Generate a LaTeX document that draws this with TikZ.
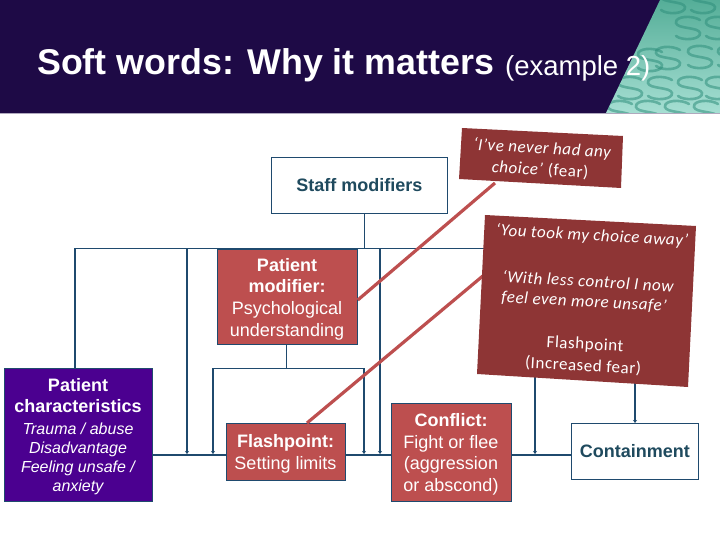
\documentclass[tikz,border=0pt]{standalone}
\usepackage{fontspec}
\setmainfont{Liberation Sans}
\newfontfamily\quotefont[LetterSpace=3.3]{Carlito}
\usetikzlibrary{arrows.meta,calc}
\definecolor{navy}{HTML}{1E0A46}
\definecolor{wire}{HTML}{1F4A6E}
\definecolor{boxred}{HTML}{BD4F4F}
\definecolor{quotered}{HTML}{8E3535}
\definecolor{chars}{HTML}{4B0090}
\definecolor{tealtxt}{HTML}{1F4A5E}
\definecolor{tealtop}{HTML}{55AE98}
\definecolor{tealbot}{HTML}{A6DFD3}
\definecolor{tealess}{HTML}{2F8F7C}
\tikzset{
  x=1pt,y=-1pt,
  box/.style={draw=wire,line width=.8pt,inner sep=0pt,align=center,anchor=north west,font=\fontsize{18}{21.6}\selectfont},
  whitebox/.style={box,fill=white,text=tealtxt},
  redbox/.style={box,fill=boxred,text=white},
  thin wire/.style={draw=wire,line width=.8pt},
  thick wire/.style={draw=wire,line width=1.5pt},
  tip wire/.style={thick wire,-{Stealth[length=3pt,width=4pt]}},
  strike/.style={draw=boxred,line width=3.2pt},
  quotebox/.style={fill=quotered,draw=none},
  quotetext/.style={text=white,rotate=-3.2,inner sep=0pt,font=\quotefont\fontsize{17}{20}\selectfont},
  ess/.style={draw=#1,line width=2.6pt,line cap=round},
}
\begin{document}
\begin{tikzpicture}
\useasboundingbox (0,0) rectangle (720,540);
% header
\fill[navy] (0,0) rectangle (720,113);
\begin{scope}
  \clip (660,0) -- (720,0) -- (720,113) -- (606,113) -- cycle;
  \shade[top color=tealtop,bottom color=tealbot] (600,0) rectangle (720,113);
  \foreach \px/\py in {673/2,703/2,688/28,718/28,650/60,668/58,700/57,730/57,630/88,660/88,690/88,718/88,620/112,648/112,677/112,706/112}{
    \draw[ess=tealess,opacity=.55,shift={(\px,\py)}] (12,-8) .. controls (4,-13) and (-13,-12) .. (-12,-5) .. controls (-11,1) and (11,-1) .. (12,5) .. controls (13,12) and (-6,13) .. (-12,8);
  }
\end{scope}
\draw[line width=.8pt,draw=navy!35!white] (0,113) -- (720,113);
\node[anchor=base west,inner sep=0pt,text=white,font=\bfseries\fontsize{35.8}{36}\selectfont] (title) at (37,75) {Soft words: Why it matters};
\node[anchor=base west,inner sep=0pt,text=white,font=\fontsize{27.5}{27.5}\selectfont] (subtitle) at (505,76) {(example 2)};
% boxes
\node[whitebox,minimum width=176pt,minimum height=56pt] (staff) at (271,157) {\bfseries Staff modifiers};
\node[redbox,minimum width=140pt,minimum height=95pt] (pmod) at (217,249) {};
\node[align=center,text=white,inner sep=0pt,font=\fontsize{18}{21.6}\selectfont] (pmodtext) at (287,299) {\textbf{Patient}\\\textbf{modifier:}\\Psychological\\understanding};
\node[box,fill=chars,text=white,minimum width=148pt,minimum height=133pt,anchor=north west] (pchar) at (4,368) {};
\node[align=center,text=white,inner sep=0pt,anchor=north,font=\bfseries\fontsize{18}{21.6}\selectfont] (pcharhead) at (78,378) {Patient\\characteristics};
\node[align=center,text=white,inner sep=0pt,anchor=north,font=\itshape\fontsize{16}{19}\selectfont] (pcharbody) at (78,422.5) {Trauma / abuse\\Disadvantage\\Feeling unsafe /\\anxiety};
\node[redbox,minimum width=119pt,minimum height=57pt] (flash) at (226,423) {};
\node[align=center,text=white,inner sep=0pt,font=\fontsize{18}{21.6}\selectfont] (flashtext) at (285.5,454) {\textbf{Flashpoint:}\\Setting limits};
\node[redbox,minimum width=120pt,minimum height=98pt] (conflict) at (391,403) {};
\node[align=center,text=white,inner sep=0pt,font=\fontsize{18}{21.6}\selectfont] (conflicttext) at (451,454.5) {\textbf{Conflict:}\\Fight or flee\\(aggression\\or abscond)};
\node[whitebox,minimum width=127pt,minimum height=56pt] (contain) at (571,423) {\bfseries Containment};
% anchors for the wiring
\coordinate (bus) at (0,455);
% wires
\draw[thin wire] (staff.south -| 364,0) -- (364,248);
\draw[thin wire] (75,248) -- (635,248);
\draw[thick wire] (75,248) -- (pchar.north -| 75,0);
\draw[tip wire] (187,248) -- (187,454);
\draw[tip wire] (380,248) -- (380,454);
\draw[thin wire] (pmod.south -| 286,0) -- (286,368);
\draw[thin wire] (213,368) -- (364,368);
\draw[tip wire] (213,368) -- (213,454);
\draw[tip wire] (364,368) -- (364,454);
\draw[thick wire] (pchar.east |- bus) -- (flash.west |- bus);
\draw[thick wire] (flash.east |- bus) -- (conflict.west |- bus);
\draw[thick wire] (conflict.east |- bus) -- (contain.west |- bus);
\draw[tip wire] (535,370) -- (535,454);
\draw[tip wire] (635,370) -- (contain.north -| 635,0);
% strike lines
\coordinate (q1foot) at (495,183);
\coordinate (q2foot) at (484,275);
\draw[strike] (pmod.east |- 0,300) -- (q1foot);
\draw[strike] (307,423) -- (q2foot);
% quote boxes
\fill[quotebox] (462,128) -- (623,136) -- (621,188) -- (459,179) -- cycle;
\fill[quotebox] (485,215) -- (696,226) -- (688,387) -- (477,374) -- cycle;
\node[quotetext] (q1a) at (542,149) {\itshape ‘I’ve never had any};
\node[quotetext] (q1b) at (540,170) {\textit{choice’} (fear)};
\node[quotetext] (q2a) at (592,236) {\itshape ‘You took my choice away’};
\node[quotetext] (q2b) at (588,281) {\itshape ‘With less control I now};
\node[quotetext] (q2c) at (584,302) {\itshape feel even more unsafe’};
\node[quotetext] (q2d) at (585,345) {Flashpoint};
\node[quotetext] (q2e) at (583,366) {(Increased fear)};
\end{tikzpicture}
\end{document}
